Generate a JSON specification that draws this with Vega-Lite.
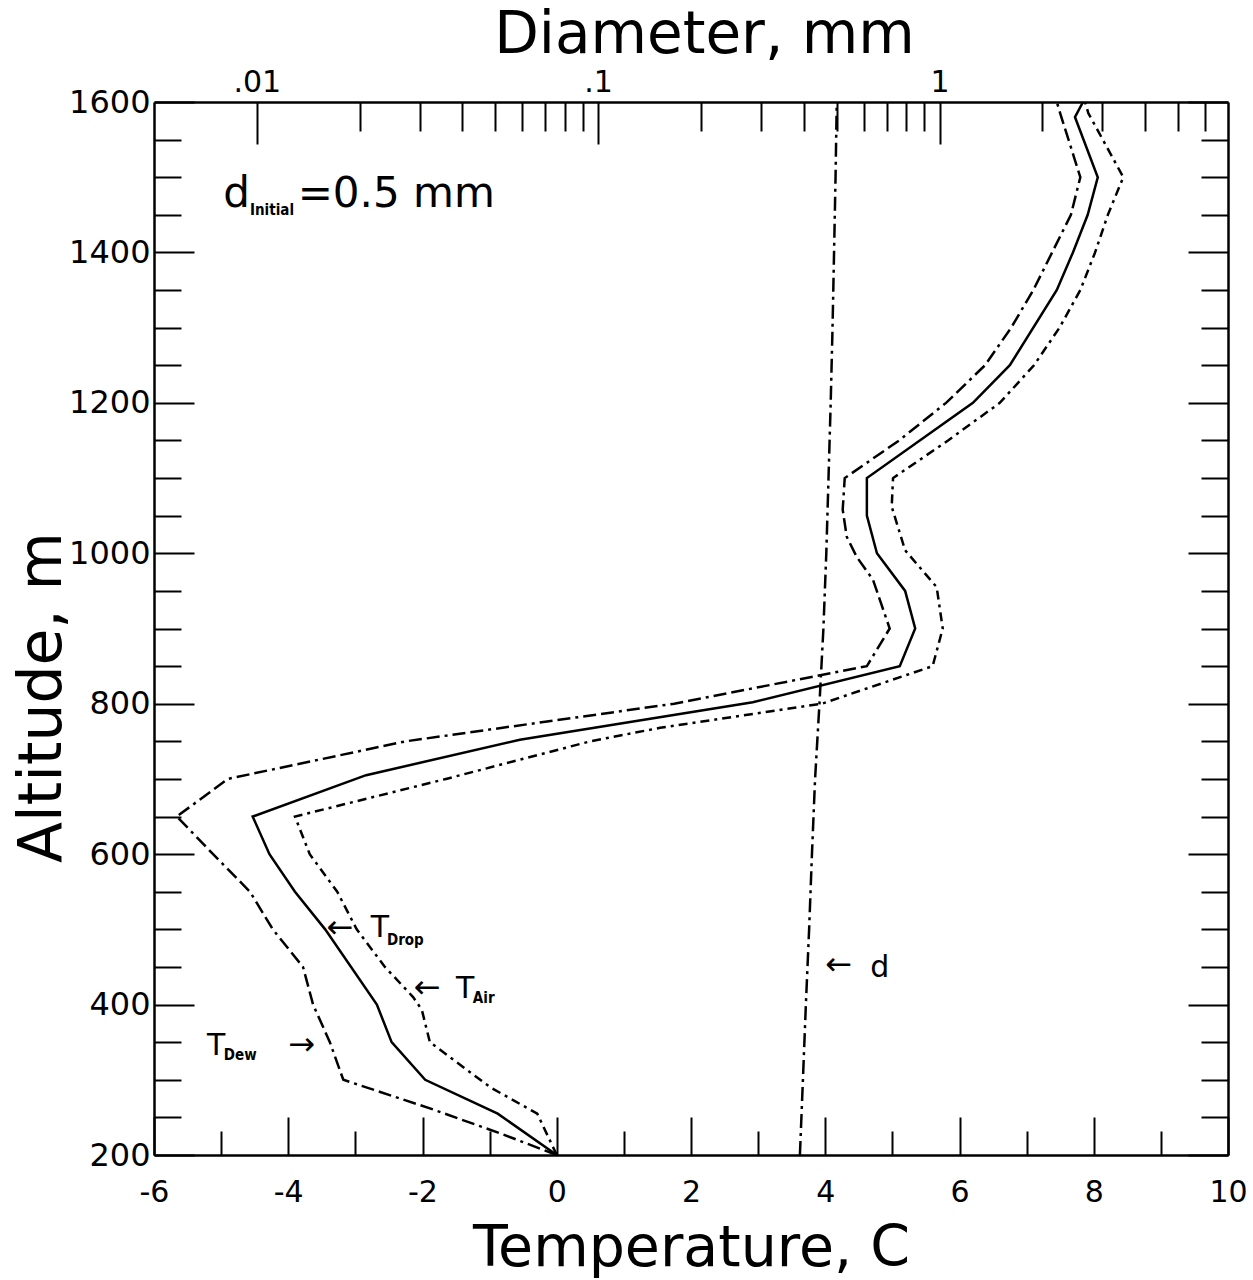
{
  "$schema": "https://vega.github.io/schema/vega-lite/v6.json",
  "width": 1074,
  "height": 1053,
  "autosize": {"type": "none"},
  "padding": {"left": 154, "top": 102, "right": 25, "bottom": 125},
  "background": "white",
  "config": {
    "view": {"stroke": null},
    "axis": {
      "grid": false,
      "domainColor": "black",
      "domainWidth": 2.5,
      "tickColor": "black",
      "tickWidth": 2,
      "labelColor": "black",
      "titleColor": "black",
      "labelFont": "DejaVu Sans",
      "titleFont": "DejaVu Sans",
      "titleFontWeight": "normal",
      "labelFlush": false,
      "labelOverlap": false
    }
  },
  "datasets": {
    "drop": [
      {"alt": 200, "T": 0}, {"alt": 255, "T": -0.88}, {"alt": 300, "T": -1.96}, {"alt": 350, "T": -2.46},
      {"alt": 400, "T": -2.68}, {"alt": 500, "T": -3.45}, {"alt": 550, "T": -3.9}, {"alt": 600, "T": -4.28},
      {"alt": 650, "T": -4.53}, {"alt": 705, "T": -2.84}, {"alt": 752, "T": -0.55}, {"alt": 802, "T": 2.92},
      {"alt": 850, "T": 5.11}, {"alt": 900, "T": 5.34}, {"alt": 950, "T": 5.19}, {"alt": 1000, "T": 4.77},
      {"alt": 1050, "T": 4.62}, {"alt": 1100, "T": 4.62}, {"alt": 1200, "T": 6.2}, {"alt": 1250, "T": 6.75},
      {"alt": 1350, "T": 7.45}, {"alt": 1400, "T": 7.69}, {"alt": 1450, "T": 7.91}, {"alt": 1500, "T": 8.06},
      {"alt": 1580, "T": 7.72}, {"alt": 1600, "T": 7.84}
    ],
    "air": [
      {"alt": 200, "T": 0}, {"alt": 255, "T": -0.29}, {"alt": 290, "T": -0.99}, {"alt": 350, "T": -1.89},
      {"alt": 393, "T": -2.01}, {"alt": 410, "T": -2.14}, {"alt": 450, "T": -2.56}, {"alt": 500, "T": -2.98},
      {"alt": 550, "T": -3.27}, {"alt": 600, "T": -3.68}, {"alt": 650, "T": -3.9}, {"alt": 700, "T": -1.65},
      {"alt": 750, "T": 0.5}, {"alt": 768, "T": 1.54}, {"alt": 800, "T": 3.95}, {"alt": 850, "T": 5.6},
      {"alt": 900, "T": 5.75}, {"alt": 955, "T": 5.66}, {"alt": 1004, "T": 5.19}, {"alt": 1062, "T": 4.99},
      {"alt": 1100, "T": 5.01}, {"alt": 1150, "T": 5.83}, {"alt": 1200, "T": 6.6}, {"alt": 1250, "T": 7.11},
      {"alt": 1300, "T": 7.49}, {"alt": 1350, "T": 7.8}, {"alt": 1400, "T": 8.02}, {"alt": 1450, "T": 8.21},
      {"alt": 1500, "T": 8.44}, {"alt": 1585, "T": 7.92}, {"alt": 1600, "T": 7.87}
    ],
    "dew": [
      {"alt": 200, "T": 0}, {"alt": 229, "T": -0.85}, {"alt": 262, "T": -1.89}, {"alt": 300, "T": -3.18},
      {"alt": 350, "T": -3.38}, {"alt": 400, "T": -3.63}, {"alt": 450, "T": -3.78}, {"alt": 500, "T": -4.23},
      {"alt": 550, "T": -4.57}, {"alt": 600, "T": -5.12}, {"alt": 650, "T": -5.66}, {"alt": 700, "T": -4.9},
      {"alt": 750, "T": -2.25}, {"alt": 800, "T": 1.75}, {"alt": 850, "T": 4.62}, {"alt": 900, "T": 4.96},
      {"alt": 965, "T": 4.71}, {"alt": 995, "T": 4.47}, {"alt": 1022, "T": 4.32}, {"alt": 1058, "T": 4.26},
      {"alt": 1100, "T": 4.29}, {"alt": 1150, "T": 5.1}, {"alt": 1200, "T": 5.8}, {"alt": 1250, "T": 6.38},
      {"alt": 1300, "T": 6.77}, {"alt": 1350, "T": 7.1}, {"alt": 1400, "T": 7.38}, {"alt": 1450, "T": 7.66},
      {"alt": 1500, "T": 7.8}, {"alt": 1585, "T": 7.5}, {"alt": 1600, "T": 7.45}
    ],
    "diam": [
      {"alt": 200, "d": 0.39}, {"alt": 300, "d": 0.398}, {"alt": 400, "d": 0.406}, {"alt": 500, "d": 0.415},
      {"alt": 600, "d": 0.423}, {"alt": 700, "d": 0.432}, {"alt": 800, "d": 0.445}, {"alt": 900, "d": 0.457},
      {"alt": 1000, "d": 0.466}, {"alt": 1100, "d": 0.473}, {"alt": 1200, "d": 0.48}, {"alt": 1300, "d": 0.486},
      {"alt": 1400, "d": 0.491}, {"alt": 1500, "d": 0.496}, {"alt": 1600, "d": 0.5}
    ],
    "bigText": [
      {"label": "d", "T": -4.97, "alt": 1460},
      {"label": "=0.5  mm", "T": -3.86, "alt": 1460}
    ],
    "bigSub": [
      {"label": "Initial", "T": -4.57, "alt": 1450}
    ],
    "mainText": [
      {"label": "T", "T": -2.77, "alt": 490},
      {"label": "T", "T": -1.5, "alt": 409},
      {"label": "T", "T": -5.21, "alt": 333},
      {"label": "d", "T": 4.67, "alt": 437}
    ],
    "subText": [
      {"label": "Drop", "T": -2.53, "alt": 479},
      {"label": "Air", "T": -1.25, "alt": 402},
      {"label": "Dew", "T": -4.96, "alt": 326}
    ],
    "arrows": [
      {"label": "←", "T": -3.23, "alt": 502},
      {"label": "←", "T": -1.93, "alt": 422},
      {"label": "→", "T": -3.8, "alt": 346},
      {"label": "←", "T": 4.2, "alt": 453}
    ]
  },
  "layer": [
    {
      "data": {"name": "drop"},
      "mark": {"type": "line", "color": "black", "strokeWidth": 2.5},
      "encoding": {
        "x": {
          "field": "T", "type": "quantitative",
          "scale": {"domain": [-6, 10], "nice": false, "zero": false},
          "axis": {
            "orient": "bottom",
            "values": [-6, -5, -4, -3, -2, -1, 0, 1, 2, 3, 4, 5, 6, 7, 8, 9, 10],
            "tickSize": {"condition": {"test": "datum.value % 2 === 0", "value": -38}, "value": -24},
            "labelExpr": "datum.value % 2 === 0 ? '' + datum.value : ''",
            "labelPadding": 60,
            "labelFontSize": 30,
            "title": "Temperature, C",
            "titleFontSize": 57,
            "titleY": 110,
            "titleBaseline": "alphabetic"
          }
        },
        "y": {
          "field": "alt", "type": "quantitative",
          "scale": {"domain": [200, 1600], "nice": false, "zero": false},
          "axis": {
            "orient": "left",
            "values": [200, 250, 300, 350, 400, 450, 500, 550, 600, 650, 700, 750, 800, 850, 900, 950, 1000, 1050, 1100, 1150, 1200, 1250, 1300, 1350, 1400, 1450, 1500, 1550, 1600],
            "tickSize": {"condition": {"test": "datum.value % 200 === 0", "value": -40}, "value": -27},
            "labelExpr": "datum.value % 200 === 0 ? '' + datum.value : ''",
            "labelPadding": 44,
            "labelFontSize": 32,
            "title": "Altitude, m",
            "titleFontSize": 60,
            "titleAngle": 270,
            "titleX": -94,
            "titleY": 595,
            "titleAlign": "center",
            "titleBaseline": "alphabetic"
          }
        },
        "order": {"field": "alt", "type": "quantitative"}
      }
    },
    {
      "data": {"name": "air"},
      "mark": {"type": "line", "color": "black", "strokeWidth": 2.5, "strokeDash": [9, 5, 3, 5]},
      "encoding": {
        "x": {"field": "T", "type": "quantitative", "scale": {"domain": [-6, 10], "nice": false, "zero": false}, "axis": null},
        "y": {"field": "alt", "type": "quantitative", "scale": {"domain": [200, 1600], "nice": false, "zero": false}, "axis": null},
        "order": {"field": "alt", "type": "quantitative"}
      }
    },
    {
      "data": {"name": "dew"},
      "mark": {"type": "line", "color": "black", "strokeWidth": 2.5, "strokeDash": [13, 5, 13, 5, 3, 5]},
      "encoding": {
        "x": {"field": "T", "type": "quantitative", "scale": {"domain": [-6, 10], "nice": false, "zero": false}, "axis": null},
        "y": {
          "field": "alt", "type": "quantitative",
          "scale": {"domain": [200, 1600], "nice": false, "zero": false},
          "axis": {
            "orient": "right",
            "values": [200, 250, 300, 350, 400, 450, 500, 550, 600, 650, 700, 750, 800, 850, 900, 950, 1000, 1050, 1100, 1150, 1200, 1250, 1300, 1350, 1400, 1450, 1500, 1550, 1600],
            "tickSize": {"condition": {"test": "datum.value % 200 === 0", "value": -40}, "value": -27},
            "labels": false,
            "title": null
          }
        },
        "order": {"field": "alt", "type": "quantitative"}
      }
    },
    {
      "data": {"name": "diam"},
      "mark": {"type": "line", "color": "black", "strokeWidth": 2.5, "strokeDash": [14, 5, 3, 5]},
      "encoding": {
        "x": {
          "field": "d", "type": "quantitative",
          "scale": {"type": "log", "domain": [0.005, 7], "nice": false},
          "axis": {
            "orient": "top",
            "values": [0.01, 0.02, 0.03, 0.04, 0.05, 0.06, 0.07, 0.08, 0.09, 0.1, 0.2, 0.3, 0.4, 0.5, 0.6, 0.7, 0.8, 0.9, 1, 2, 3, 4, 5, 6],
            "tickSize": {"condition": {"test": "datum.value === 0.01 || datum.value === 0.1 || datum.value === 1", "value": -42}, "value": -29},
            "labelExpr": "datum.value === 0.01 ? '.01' : datum.value === 0.1 ? '.1' : datum.value === 1 ? '1' : ''",
            "labelPadding": 47,
            "labelFontSize": 30,
            "title": "Diameter, mm",
            "titleFontSize": 58,
            "titleX": 550,
            "titleY": -50,
            "titleAlign": "center",
            "titleBaseline": "alphabetic"
          }
        },
        "y": {"field": "alt", "type": "quantitative", "scale": {"domain": [200, 1600], "nice": false, "zero": false}, "axis": null},
        "order": {"field": "alt", "type": "quantitative"}
      }
    },
    {
      "data": {"name": "bigText"},
      "mark": {"type": "text", "align": "left", "baseline": "alphabetic", "font": "DejaVu Sans", "fontSize": 42, "color": "black"},
      "encoding": {
        "x": {"field": "T", "type": "quantitative", "scale": {"domain": [-6, 10], "nice": false, "zero": false}, "axis": null},
        "y": {"field": "alt", "type": "quantitative", "scale": {"domain": [200, 1600], "nice": false, "zero": false}, "axis": null},
        "text": {"field": "label"}
      }
    },
    {
      "data": {"name": "bigSub"},
      "mark": {"type": "text", "align": "left", "baseline": "alphabetic", "font": "DejaVu Sans Condensed", "fontWeight": "bold", "fontSize": 15, "color": "black"},
      "encoding": {
        "x": {"field": "T", "type": "quantitative", "scale": {"domain": [-6, 10], "nice": false, "zero": false}, "axis": null},
        "y": {"field": "alt", "type": "quantitative", "scale": {"domain": [200, 1600], "nice": false, "zero": false}, "axis": null},
        "text": {"field": "label"}
      }
    },
    {
      "data": {"name": "mainText"},
      "mark": {"type": "text", "align": "left", "baseline": "alphabetic", "font": "DejaVu Sans", "fontSize": 30, "color": "black"},
      "encoding": {
        "x": {"field": "T", "type": "quantitative", "scale": {"domain": [-6, 10], "nice": false, "zero": false}, "axis": null},
        "y": {"field": "alt", "type": "quantitative", "scale": {"domain": [200, 1600], "nice": false, "zero": false}, "axis": null},
        "text": {"field": "label"}
      }
    },
    {
      "data": {"name": "subText"},
      "mark": {"type": "text", "align": "left", "baseline": "alphabetic", "font": "DejaVu Sans Condensed", "fontWeight": "bold", "fontSize": 15, "color": "black"},
      "encoding": {
        "x": {"field": "T", "type": "quantitative", "scale": {"domain": [-6, 10], "nice": false, "zero": false}, "axis": null},
        "y": {"field": "alt", "type": "quantitative", "scale": {"domain": [200, 1600], "nice": false, "zero": false}, "axis": null},
        "text": {"field": "label"}
      }
    },
    {
      "data": {"name": "arrows"},
      "mark": {"type": "text", "align": "center", "baseline": "middle", "font": "DejaVu Sans", "fontSize": 32, "color": "black"},
      "encoding": {
        "x": {"field": "T", "type": "quantitative", "scale": {"domain": [-6, 10], "nice": false, "zero": false}, "axis": null},
        "y": {"field": "alt", "type": "quantitative", "scale": {"domain": [200, 1600], "nice": false, "zero": false}, "axis": null},
        "text": {"field": "label"}
      }
    }
  ],
  "resolve": {
    "scale": {"x": "independent"},
    "axis": {"x": "independent", "y": "independent"}
  }
}
